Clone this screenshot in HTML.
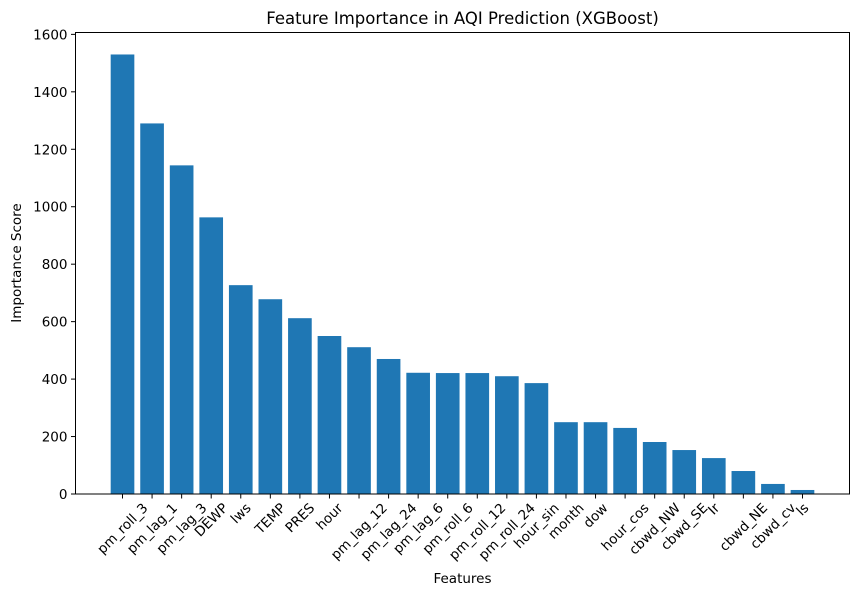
<!DOCTYPE html>
<html><head><meta charset="utf-8"><style>
html,body{margin:0;padding:0;background:#fff;}
svg{display:block;font-family:"DejaVu Sans","Liberation Sans",sans-serif;}
</style></head><body>
<svg id="chart" width="859" height="597" viewBox="0 0 859 597" xmlns="http://www.w3.org/2000/svg">
<text x="462.5" y="24" font-size="16.5" text-anchor="middle" fill="#000">Feature Importance in AQI Prediction (XGBoost)</text>
<g id="bars"></g>
<g id="yaxis"></g>
<g id="xaxis"></g>
<rect x="75.5" y="32.5" width="774" height="461.5" fill="none" stroke="#000" stroke-width="1"/>
<text x="462.5" y="583" font-size="13.5" text-anchor="middle">Features</text>
<text transform="translate(21,263) rotate(-90)" font-size="13.5" text-anchor="middle">Importance Score</text>
</svg>
<script>
const categories = ["pm_roll_3","pm_lag_1","pm_lag_3","DEWP","lws","TEMP","PRES","hour","pm_lag_12","pm_lag_24","pm_lag_6","pm_roll_6","pm_roll_12","pm_roll_24","hour_sin","month","dow","hour_cos","cbwd_NW","cbwd_SE","Ir","cbwd_NE","cbwd_cv","ls"];
const values = [1530,1290,1144,963,727,678,612,550,511,470,422,421,421,410,386,250,250,230,181,153,125,80,35,14];
const yTicks = [0,200,400,600,800,1000,1200,1400,1600];

const NS = "http://www.w3.org/2000/svg";
const L = 75.5, R = 849.5, B = 494, T = 32.5;
const n = categories.length;
const xmin = -0.4 - 0.05 * (n - 0.2), xmax = n - 0.6 + 0.05 * (n - 0.2);
const ymax = Math.max(...values) * 1.05;
const xs = v => L + (v - xmin) / (xmax - xmin) * (R - L);
const ys = v => B - v / ymax * (B - T);

const bars = document.getElementById('bars');
values.forEach((v, i) => {
  const r = document.createElementNS(NS, 'rect');
  
  
  const w = (xs(0.8) - xs(0));
  r.setAttribute('x', xs(i) - w / 2);
  r.setAttribute('width', w);
  r.setAttribute('y', ys(v));
  r.setAttribute('height', B - ys(v));
  r.setAttribute('fill', '#1f77b4');
  bars.appendChild(r);
});

const ya = document.getElementById('yaxis');
yTicks.forEach(t => {
  const y = ys(t);
  const l = document.createElementNS(NS, 'line');
  
  
  l.setAttribute('x1', L - 4.5); l.setAttribute('x2', L);
  l.setAttribute('y1', y); l.setAttribute('y2', y);
  l.setAttribute('stroke', '#000');
  ya.appendChild(l);
  const tx = document.createElementNS(NS, 'text');
  
  
  tx.setAttribute('x', L - 8); tx.setAttribute('y', y + 5);
  tx.setAttribute('font-size', '13.5');
  tx.setAttribute('text-anchor', 'end');
  tx.textContent = t;
  ya.appendChild(tx);
});

const xa = document.getElementById('xaxis');
categories.forEach((c, i) => {
  const x = xs(i);
  const l = document.createElementNS(NS, 'line');
  
  
  l.setAttribute('x1', x); l.setAttribute('x2', x);
  l.setAttribute('y1', B); l.setAttribute('y2', B + 4.5);
  l.setAttribute('stroke', '#000');
  xa.appendChild(l);
  const tx = document.createElementNS(NS, 'text');
  
  
  tx.setAttribute('font-size', '13.5');
  tx.setAttribute('text-anchor', 'middle');
  tx.textContent = c;
  xa.appendChild(tx);
  const w = tx.getComputedTextLength();
  const h = 13;
  const bh = (w + h) * Math.SQRT1_2;
  const cy = B + 7 + bh / 2;
  tx.setAttribute('transform', 'translate(' + x + ',' + cy + ') rotate(-45)');
  tx.setAttribute('x', 0); tx.setAttribute('y', 4.5);
});
</script>
</body></html>
